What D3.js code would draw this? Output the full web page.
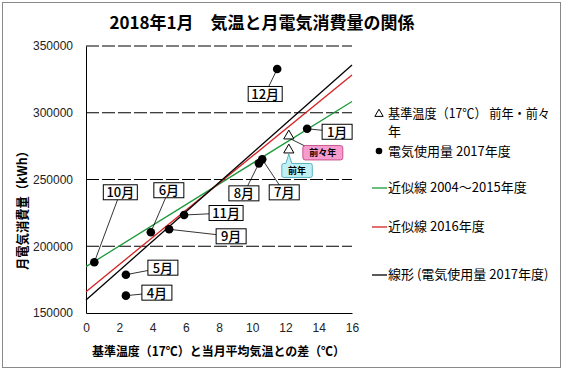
<!DOCTYPE html>
<html>
<head>
<meta charset="utf-8">
<script src="https://cdn.jsdelivr.net/npm/d3@7/dist/d3.min.js"></script>
<style>
  body { margin: 0; background: #fff; }
  text { font-family: "Noto Sans CJK JP", "Liberation Sans", sans-serif; }
</style>
</head>
<body>
<svg id="chart"></svg>
<script>
// data
var months = ["4月", "5月", "6月", "7月", "8月", "9月", "10月", "11月", "12月", "1月"];
var tempDiff = [2.4, 2.4, 3.9, 10.6, 10.4, 5.0, 0.5, 5.9, 11.5, 13.3];
var usage = [163000, 178700, 210500, 265100, 262100, 212700, 188000, 223400, 332800, 288000];

var prevNames = ["前々年", "前年"];
var prevDiff = [12.2, 12.2];
var prevUsage = [282600, 272100];

// approximation lines: value at x=0 and x=16
var fitNames = ["近似線 2004～2015年度", "近似線 2016年度", "線形 (電気使用量 2017年度)"];
var fitStart = [184700, 166000, 159700];
var fitEnd = [308400, 328300, 335800];

var xTicks = [0, 2, 4, 6, 8, 10, 12, 14, 16];
var yTicks = [150000, 200000, 250000, 300000, 350000];

// label box offsets from each point (px)
var labelOffsets = [[31, -3], [37, -7], [18, -42], [22, 33], [-15, 30], [62, 7], [26, -70], [42, -2], [-12, 25], [30, 3]];

var svgWidth = 564, svgHeight = 371;
var fitColors = ["#1b9a3c", "#d42222", "#000"];

var svg = d3.select("#chart")
    .attr("width", svgWidth)
    .attr("height", svgHeight);

svg.append("rect")
    .attr("x", 2.5).attr("y", 2.5)
    .attr("width", 558).attr("height", 365)
    .attr("fill", "#fff")
    .attr("stroke", "#888")
    .attr("stroke-width", 1);

var x = d3.scaleLinear().domain([0, 16]).range([86, 352]);
var y = d3.scaleLinear().domain([150000, 350000]).range([313, 46]);

// title
svg.append("text")
    .attr("x", 262).attr("y", 29)
    .attr("text-anchor", "middle")
    .attr("font-size", 17)
    .attr("font-weight", "bold")
    .text("2018年1月　気温と月電気消費量の関係");

// gridlines
svg.append("g").selectAll("line")
    .data(yTicks.slice(1))
    .enter()
    .append("line")
    .attr("x1", x(0)).attr("x2", x(16))
    .attr("y1", function(d) { return y(d); })
    .attr("y2", function(d) { return y(d); })
    .attr("stroke", "#000")
    .attr("stroke-width", 1)
    .attr("stroke-dasharray", "13,3");

// axes
var xAxis = svg.append("g")
    .attr("transform", "translate(0," + y(150000) + ")")
    .call(d3.axisBottom(x).tickValues(xTicks).tickSize(0).tickPadding(10));
xAxis.select(".domain").attr("stroke", "#000");
xAxis.selectAll("text").attr("font-size", 12).attr("fill", "#222")
    .style("font-family", "Liberation Sans, sans-serif");

var yAxis = svg.append("g")
    .attr("transform", "translate(" + x(0) + ",0)")
    .call(d3.axisLeft(y).tickValues(yTicks).tickSize(0).tickPadding(13).tickFormat(d3.format("d")));
yAxis.select(".domain").attr("stroke", "#000");
yAxis.selectAll("text").attr("font-size", 12).attr("fill", "#222")
    .style("font-family", "Liberation Sans, sans-serif");

svg.append("text")
    .attr("x", 92).attr("y", 356)
    .attr("textLength", 253)
    .attr("lengthAdjust", "spacingAndGlyphs")
    .attr("font-size", 12.5)
    .attr("font-weight", "bold")
    .text("基準温度（17℃）と当月平均気温との差（℃）");

svg.append("text")
    .attr("transform", "translate(27,270) rotate(-90)")
    .attr("textLength", 125)
    .attr("lengthAdjust", "spacingAndGlyphs")
    .attr("font-size", 13)
    .attr("font-weight", "bold")
    .text("月電気消費量（kWh）");

// fit lines
svg.append("g").selectAll("line")
    .data(fitNames)
    .enter()
    .append("line")
    .attr("x1", x(0)).attr("x2", x(16))
    .attr("y1", function(d, i) { return y(fitStart[i]); })
    .attr("y2", function(d, i) { return y(fitEnd[i]); })
    .attr("stroke", function(d, i) { return fitColors[i]; })
    .attr("stroke-width", 1.3);

// leaders for month labels
var pts = months.map(function(m, i) {
    var px = x(tempDiff[i]), py = y(usage[i]);
    return { name: m, px: px, py: py, lx: px + labelOffsets[i][0], ly: py + labelOffsets[i][1] };
});

svg.append("g").selectAll("line")
    .data(pts)
    .enter()
    .append("line")
    .attr("x1", function(d) { return d.px; })
    .attr("y1", function(d) { return d.py; })
    .attr("x2", function(d) { return d.lx; })
    .attr("y2", function(d) { return d.ly; })
    .attr("stroke", "#000")
    .attr("stroke-width", 0.8);

// previous years triangles + callouts
var tri = d3.symbol().type(d3.symbolTriangle).size(45);
var prev = prevNames.map(function(n, i) {
    return { name: n, px: x(prevDiff[i]), py: y(prevUsage[i]) };
});

// 前々年 callout (line + pink box)
var pp = prev[0];
svg.append("line")
    .attr("x1", pp.px + 2).attr("y1", pp.py + 3)
    .attr("x2", pp.px + 18).attr("y2", pp.py + 11)
    .attr("stroke", "#000").attr("stroke-width", 0.8);
svg.append("rect")
    .attr("x", pp.px + 14).attr("y", pp.py + 9.5)
    .attr("width", 40).attr("height", 14.5)
    .attr("rx", 2.5)
    .attr("fill", "#f79ccd")
    .attr("stroke", "#b8397a")
    .attr("stroke-width", 0.8);
svg.append("text")
    .attr("x", pp.px + 34).attr("y", pp.py + 20.5)
    .attr("text-anchor", "middle")
    .attr("font-size", 9)
    .attr("font-weight", "bold")
    .text(pp.name);

// 前年 callout (bubble with pointer)
var p1 = prev[1];
var bx = p1.px - 7, by = p1.py + 13.5, bw = 30.5, bh = 14;
svg.append("path")
    .attr("d", "M" + (bx + 2) + "," + by +
        "L" + (p1.px - 3) + "," + by +
        "L" + p1.px + "," + (p1.py + 4) +
        "L" + (p1.px + 3) + "," + by +
        "L" + (bx + bw - 2) + "," + by +
        "Q" + (bx + bw) + "," + by + " " + (bx + bw) + "," + (by + 2) +
        "L" + (bx + bw) + "," + (by + bh - 2) +
        "Q" + (bx + bw) + "," + (by + bh) + " " + (bx + bw - 2) + "," + (by + bh) +
        "L" + (bx + 2) + "," + (by + bh) +
        "Q" + bx + "," + (by + bh) + " " + bx + "," + (by + bh - 2) +
        "L" + bx + "," + (by + 2) +
        "Q" + bx + "," + by + " " + (bx + 2) + "," + by + "Z")
    .attr("fill", "#bff1f4")
    .attr("stroke", "#3a9fb0")
    .attr("stroke-width", 0.8);
svg.append("text")
    .attr("x", bx + bw / 2).attr("y", by + 10.5)
    .attr("text-anchor", "middle")
    .attr("font-size", 9)
    .attr("font-weight", "bold")
    .text(p1.name);

svg.append("g").selectAll("path")
    .data(prev)
    .enter()
    .append("path")
    .attr("d", tri)
    .attr("transform", function(d) { return "translate(" + d.px + "," + d.py + ")"; })
    .attr("fill", "#fff")
    .attr("stroke", "#000")
    .attr("stroke-width", 1);

// points
svg.append("g").selectAll("circle")
    .data(pts)
    .enter()
    .append("circle")
    .attr("cx", function(d) { return d.px; })
    .attr("cy", function(d) { return d.py; })
    .attr("r", 4.3)
    .attr("fill", "#000");

// month label boxes
var lab = svg.append("g").selectAll("g")
    .data(pts)
    .enter()
    .append("g")
    .attr("transform", function(d) { return "translate(" + d.lx + "," + d.ly + ")"; });

lab.append("rect")
    .attr("x", function(d) { return d.name.length > 2 ? -17 : -15; })
    .attr("y", -7.5)
    .attr("width", function(d) { return d.name.length > 2 ? 34 : 30; })
    .attr("height", 15)
    .attr("fill", "#fff")
    .attr("stroke", "#000")
    .attr("stroke-width", 1);

lab.append("text")
    .attr("text-anchor", "middle")
    .attr("y", 5)
    .attr("font-size", 13)
    .attr("font-weight", 500)
    .text(function(d) { return d.name; });

// legend
var legend = svg.append("g");
legend.append("path")
    .attr("d", d3.symbol().type(d3.symbolTriangle).size(30))
    .attr("transform", "translate(379,114)")
    .attr("fill", "#fff")
    .attr("stroke", "#000");
legend.append("text")
    .attr("x", 388).attr("y", 118)
    .attr("textLength", 162)
    .attr("lengthAdjust", "spacingAndGlyphs")
    .attr("font-size", 13)
    .text("基準温度（17℃） 前年・前々");
legend.append("text")
    .attr("x", 388).attr("y", 136)
    .attr("font-size", 13)
    .text("年");
legend.append("circle")
    .attr("cx", 379).attr("cy", 151)
    .attr("r", 3.3)
    .attr("fill", "#000");
legend.append("text")
    .attr("x", 388).attr("y", 156)
    .attr("font-size", 13)
    .text("電気使用量 2017年度");

var legendY = [192, 231, 279];
legend.selectAll("line.fit")
    .data(fitNames)
    .enter()
    .append("line")
    .attr("class", "fit")
    .attr("x1", 372).attr("x2", 387)
    .attr("y1", function(d, i) { return legendY[i] - 4; })
    .attr("y2", function(d, i) { return legendY[i] - 4; })
    .attr("stroke", function(d, i) { return fitColors[i]; })
    .attr("stroke-width", 1.3);
legend.selectAll("text.fit")
    .data(fitNames)
    .enter()
    .append("text")
    .attr("class", "fit")
    .attr("x", 388)
    .attr("y", function(d, i) { return legendY[i]; })
    .attr("font-size", 13)
    .text(function(d) { return d; });
</script>
</body>
</html>
